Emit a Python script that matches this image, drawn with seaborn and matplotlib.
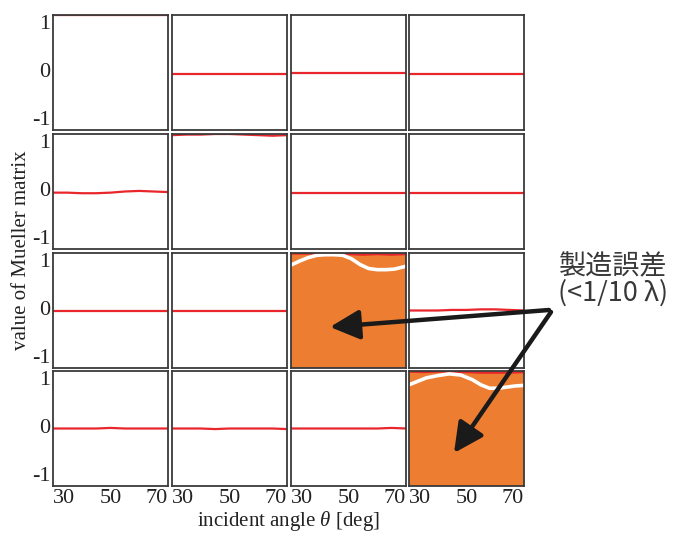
import numpy as np
import pandas as pd
import matplotlib
matplotlib.use("Agg")
import matplotlib.pyplot as plt
import seaborn as sns

sns.set_theme(style="white")
plt.rcParams["font.family"] = ["Liberation Serif", "DejaVu Serif"]
plt.rcParams["axes.unicode_minus"] = False
plt.rcParams["mathtext.fontset"] = "custom"
plt.rcParams["mathtext.it"] = "Liberation Serif:italic"
plt.rcParams["mathtext.rm"] = "Liberation Serif"

# ---- data ----
angles = [30, 35, 40, 45, 50, 55, 60, 65, 70]
m11 = [1.0, 1.0, 1.0, 1.0, 1.0, 1.0, 1.0, 1.0, 1.0]
m12 = [-0.02, -0.02, -0.02, -0.02, -0.02, -0.02, -0.02, -0.02, -0.02]
m13 = [-0.01, -0.01, -0.01, -0.01, -0.01, -0.01, -0.01, -0.01, -0.01]
m14 = [-0.02, -0.02, -0.02, -0.02, -0.02, -0.02, -0.02, -0.02, -0.02]
m21 = [-0.02, -0.02, -0.03, -0.03, -0.02, 0.0, 0.01, 0.0, -0.01]
m22 = [0.98, 0.99, 0.99, 1.0, 1.0, 0.99, 0.98, 0.97, 0.98]
m23 = [-0.02, -0.02, -0.02, -0.02, -0.02, -0.02, -0.02, -0.02, -0.02]
m24 = [-0.03, -0.03, -0.03, -0.03, -0.03, -0.03, -0.03, -0.03, -0.03]
m31 = [0.0, 0.0, 0.0, 0.0, 0.0, 0.0, 0.0, 0.0, 0.0]
m32 = [0.0, 0.0, 0.0, 0.0, 0.0, 0.0, 0.0, 0.0, 0.0]
m33 = [0.99, 0.99, 0.99, 0.99, 0.98, 0.97, 0.98, 0.97, 0.98]
m34 = [0.0, 0.0, 0.0, 0.01, 0.01, 0.02, 0.02, 0.01, 0.0]
m41 = [0.0, 0.0, 0.0, 0.0, 0.01, 0.0, 0.0, 0.0, 0.0]
m42 = [0.0, 0.0, 0.0, -0.01, 0.0, 0.0, 0.0, 0.0, -0.01]
m43 = [0.0, 0.0, 0.0, 0.0, 0.0, 0.0, 0.0, 0.01, 0.0]
m44 = [0.99, 0.98, 0.99, 0.99, 0.98, 0.97, 0.97, 0.97, 0.98]

measured = [[m11, m12, m13, m14],
            [m21, m22, m23, m24],
            [m31, m32, m33, m34],
            [m41, m42, m43, m44]]

# ideal (white) curves in the highlighted elements
ideal_angles_33 = [30, 33, 36, 39, 42, 45, 48, 51, 54, 57, 60, 63, 66, 70]
ideal_33 = [0.79, 0.86, 0.92, 0.96, 0.97, 0.97, 0.96, 0.90, 0.80, 0.73, 0.71, 0.71, 0.72, 0.77]
ideal_angles_44 = [30, 33, 36, 40, 44, 48, 52, 55, 58, 61, 64, 67, 70]
ideal_44 = [0.76, 0.82, 0.88, 0.92, 0.95, 0.93, 0.85, 0.76, 0.70, 0.70, 0.72, 0.74, 0.75]

highlighted = {(2, 2): (ideal_angles_33, ideal_33), (3, 3): (ideal_angles_44, ideal_44)}

xticks = [30, 50, 70]
xtick_labels = ["30", "50", "70"]
yticks = [-1, 0, 1]
ytick_labels = ["-1", "0", "1"]

RED = "#E8262B"
ORANGE = "#ED7D31"
FRAME = "#3a3a3a"
TXT = "#222222"

W, H = 683, 534
fig = plt.figure(figsize=(W / 100, H / 100), dpi=100)

col_left = [53, 172, 291, 409]
row_top = [15, 134, 253, 371]
pw, ph = 115, 115

for r in range(4):
    for c in range(4):
        l = col_left[c] / W
        b = 1 - (row_top[r] + ph) / H
        ax = fig.add_axes([l, b, pw / W, ph / H])
        ax.set_facecolor(ORANGE if (r, c) in highlighted else "white")
        df = pd.DataFrame({"angle": angles, "value": measured[r][c]})
        sns.lineplot(data=df, x="angle", y="value", ax=ax, color=RED, linewidth=1.6)
        if (r, c) in highlighted:
            ia, iv = highlighted[(r, c)]
            dfi = pd.DataFrame({"angle": ia, "value": iv})
            sns.lineplot(data=dfi, x="angle", y="value", ax=ax, color="white", linewidth=2.6)
        ax.set_xlim(30, 70)
        ax.set_ylim(-1, 1)
        ax.set_xlabel("")
        ax.set_ylabel("")
        ax.set_xticks(xticks)
        ax.set_yticks(yticks)
        ax.tick_params(length=0, labelsize=16, pad=2, colors=TXT)
        if r == 3:
            ax.set_xticklabels(xtick_labels)
            for lab, ha in zip(ax.get_xticklabels(), ["left", "center", "right"]):
                lab.set_ha(ha)
        else:
            ax.set_xticklabels([])
        if c == 0:
            ax.set_yticklabels(ytick_labels)
            for lab, va in zip(ax.get_yticklabels(), ["bottom", "center", "top"]):
                lab.set_va(va)
        else:
            ax.set_yticklabels([])
        for s in ax.spines.values():
            s.set_color(FRAME)
            s.set_linewidth(1.3)
            s.set_visible(True)

fig.text(288 / W, 1 - 521 / H, r"incident angle $\theta$ [deg]", ha="center", va="center",
         fontsize=15, color=TXT)
fig.text(22 / W, 1 - 250 / H, "value of Mueller matrix", ha="center", va="center",
         rotation=90, fontsize=15, color=TXT)

# overlay for annotation in pixel coordinates
ov = fig.add_axes([0, 0, 1, 1], facecolor="none")
ov.set_xlim(0, W)
ov.set_ylim(H, 0)
ov.axis("off")
ov.text(613, 280, "製造誤差\n(<1/10 λ)", ha="center", va="center", fontsize=19.5,
        color="#383838", linespacing=1.0,
        family=["Noto Sans CJK JP", "DejaVu Sans"])
arrow_kw = dict(arrowstyle="-|>,head_length=1.0,head_width=0.5", lw=3.2, color="#1a1a1a",
                shrinkA=0, shrinkB=0, mutation_scale=18)
ov.annotate("", xy=(330, 327), xytext=(549, 310), arrowprops=arrow_kw, annotation_clip=False)
ov.annotate("", xy=(454, 453), xytext=(551, 312), arrowprops=arrow_kw, annotation_clip=False)

fig.savefig("out.png", dpi=100, facecolor="white")
